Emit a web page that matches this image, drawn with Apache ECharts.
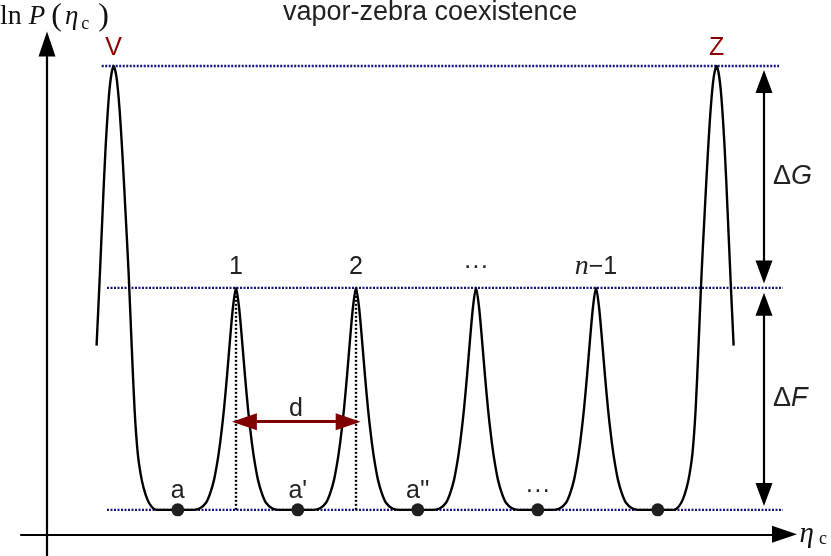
<!DOCTYPE html>
<html>
<head>
<meta charset="utf-8">
<title>vapor-zebra coexistence</title>
<script src="https://cdn.jsdelivr.net/npm/echarts@6/dist/echarts.min.js"></script>
<style>
  html, body { margin: 0; padding: 0; background: #fff; }
  #chart { width: 831px; height: 556px; }
</style>
</head>
<body>
<div id="chart"></div>
<script>
// schematic ln P(eta_c): barrier height dF = 1, extra peak height dG = 1

// curve samples (V peak, 4 barriers, Z peak)
const etaC = [
  0.413, 0.438, 0.463, 0.488, 0.522, 0.555, 0.580, 0.605, 0.630, 0.655, 0.680, 0.705, 0.730, 0.755, 0.780, 0.805, 0.838, 0.872, 0.913,
  1.225, 1.275, 1.325, 1.358, 1.392, 1.425, 1.450, 1.475, 1.500, 1.525, 1.550, 1.575, 1.600, 1.625, 1.650, 1.675, 1.700, 1.725, 1.758, 1.792, 1.825, 1.875, 1.925,
  2.225, 2.275, 2.325, 2.358, 2.392, 2.425, 2.450, 2.475, 2.500, 2.525, 2.550, 2.575, 2.600, 2.625, 2.650, 2.675, 2.700, 2.725, 2.758, 2.792, 2.825, 2.875, 2.925,
  3.225, 3.275, 3.325, 3.358, 3.392, 3.425, 3.450, 3.475, 3.500, 3.525, 3.550, 3.575, 3.600, 3.625, 3.650, 3.675, 3.700, 3.725, 3.758, 3.792, 3.825, 3.875, 3.925,
  4.225, 4.275, 4.325, 4.358, 4.392, 4.425, 4.450, 4.475, 4.500, 4.525, 4.550, 4.575, 4.600, 4.625, 4.650, 4.675, 4.700, 4.725, 4.758, 4.792, 4.825, 4.875, 4.925,
  5.222, 5.263, 5.297, 5.330, 5.355, 5.380, 5.405, 5.430, 5.455, 5.480, 5.505, 5.530, 5.555, 5.580, 5.613, 5.647, 5.672, 5.697, 5.722
];
const lnP = [
  0.850, 1.140, 1.450, 1.740, 2.011, 2.110, 2.056, 1.912, 1.696, 1.443, 1.178, 0.858, 0.560, 0.371, 0.272, 0.209, 0.155, 0.124, 0.110,
  0.110, 0.117, 0.142, 0.182, 0.245, 0.344, 0.443, 0.565, 0.714, 0.876, 1.024, 1.110, 1.024, 0.876, 0.714, 0.565, 0.443, 0.344, 0.245, 0.182, 0.142, 0.117, 0.110,
  0.110, 0.117, 0.142, 0.182, 0.245, 0.344, 0.443, 0.565, 0.714, 0.876, 1.024, 1.110, 1.024, 0.876, 0.714, 0.565, 0.443, 0.344, 0.245, 0.182, 0.142, 0.117, 0.110,
  0.110, 0.117, 0.142, 0.182, 0.245, 0.344, 0.443, 0.565, 0.714, 0.876, 1.024, 1.110, 1.024, 0.876, 0.714, 0.565, 0.443, 0.344, 0.245, 0.182, 0.142, 0.117, 0.110,
  0.110, 0.117, 0.142, 0.182, 0.245, 0.344, 0.443, 0.565, 0.714, 0.876, 1.024, 1.110, 1.024, 0.876, 0.714, 0.565, 0.443, 0.344, 0.245, 0.182, 0.142, 0.117, 0.110,
  0.110, 0.124, 0.155, 0.209, 0.272, 0.371, 0.560, 0.858, 1.178, 1.443, 1.696, 1.912, 2.056, 2.110, 2.011, 1.740, 1.450, 1.140, 0.850
];

// reference levels (well bottom, barrier top, V/Z top) and their extent
const levels = [0.11, 1.11, 2.11];
const levelFrom = [0.5, 0.5, 0.456];
const levelTo = [6.133, 6.133, 6.1];

const peakX = [1.575, 2.575, 3.575, 4.575];
const peakNames = ['1', '2', '···', '{i|n}−1'];
const wellX = [1.09, 2.09, 3.09, 4.09, 5.09];
const wellNames = ['a', "a'", "a''", '···', ''];
const phaseX = [0.555, 5.58];
const phaseNames = ['V', 'Z'];
const gapX = 5.975;
const gapNames = ['{u|Δ}{i|G}', '{u|Δ}{i|F}'];
const dLevel = 0.507;

const sans = 'Liberation Sans, Arial, sans-serif';
const serif = 'Liberation Serif, Times New Roman, serif';

const chart = echarts.init(document.getElementById('chart'));

const levelSeries = levels.map((y, i) => ({
  type: 'line',
  data: [[levelFrom[i], y], [levelTo[i], y]],
  symbol: 'none',
  silent: true,
  z: 1,
  lineStyle: { color: '#14147f', width: 2.4, type: [2, 1.5] }
}));

const dropSeries = peakX.slice(0, 2).map(x => ({
  type: 'line',
  data: [[x, levels[0]], [x, levels[1]]],
  symbol: 'none',
  silent: true,
  z: 1,
  lineStyle: { color: '#000', width: 2.4, type: [2, 2] }
}));

const option = {
  animation: false,
  backgroundColor: '#fff',
  title: [
    {
      text: 'vapor-zebra coexistence',
      left: 283, top: -1, padding: 0,
      textStyle: { fontFamily: sans, fontSize: 27, fontWeight: 'normal', color: '#222' }
    },
    {
      text: '{n|ln }{i|P}{p|(}{e|η}{s|c}{p|)}',
      left: 0, top: 1, padding: 0,
      textStyle: {
        fontWeight: 'normal',
        rich: {
          n: { fontFamily: serif, fontWeight: 'normal', fontSize: 28, color: '#111' },
          i: { fontFamily: serif, fontWeight: 'normal', fontStyle: 'italic', fontSize: 27, color: '#111', padding: [0, 6, 0, 0] },
          e: { fontFamily: serif, fontWeight: 'normal', fontStyle: 'italic', fontSize: 27, color: '#111', padding: [0, 3, 0, 3] },
          p: { fontFamily: serif, fontWeight: 'normal', fontSize: 32, color: '#111' },
          s: { fontFamily: serif, fontWeight: 'normal', fontSize: 18, color: '#111', verticalAlign: 'bottom', padding: [0, 9, 0, 0] }
        }
      }
    }
  ],
  grid: { left: 21, right: 46.5, top: 44, bottom: 0 },
  xAxis: {
    type: 'value',
    min: -0.2167, max: 6.1458,
    axisLine: {
      onZero: true,
      symbol: ['none', 'triangle'], symbolSize: [17, 25],
      lineStyle: { color: '#000', width: 2.2 }
    },
    axisTick: { show: false },
    axisLabel: { show: false },
    splitLine: { show: false },
    name: '{i|η}{s|c}',
    nameLocation: 'end',
    nameGap: 15,
    nameTextStyle: {
      rich: {
        i: { fontFamily: serif, fontStyle: 'italic', fontSize: 29, color: '#111', padding: [0, 5, 0, 0] },
        s: { fontFamily: serif, fontSize: 18, color: '#111', verticalAlign: 'bottom' }
      }
    }
  },
  yAxis: {
    type: 'value',
    min: -0.098, max: 2.209,
    axisLine: {
      onZero: true,
      symbol: ['none', 'triangle'], symbolSize: [17, 25],
      lineStyle: { color: '#000', width: 2.2 }
    },
    axisTick: { show: false },
    axisLabel: { show: false },
    splitLine: { show: false }
  },
  series: [
    ...levelSeries,
    ...dropSeries,
    {
      name: 'ln P',
      type: 'line',
      data: etaC.map((x, i) => [x, lnP[i]]),
      showSymbol: false,
      smooth: 0.3,
      silent: true,
      z: 3,
      lineStyle: { color: '#000', width: 2.4 }
    },
    {
      // wells: dots and labels
      type: 'scatter',
      data: wellX.map(x => [x, levels[0]]),
      symbolSize: 13,
      z: 5,
      itemStyle: { color: '#1e1e1e', opacity: 1 },
      label: {
        show: true, position: 'inside', offset: [0, -19],
        formatter: p => wellNames[p.dataIndex],
        fontFamily: sans, fontSize: 25, color: '#222'
      }
    },
    {
      // barrier labels
      type: 'scatter',
      data: peakX.map(x => [x, levels[1]]),
      symbolSize: 0,
      z: 5,
      itemStyle: { opacity: 1 },
      label: {
        show: true, position: 'inside', offset: [0, -21],
        formatter: p => peakNames[p.dataIndex],
        fontFamily: sans, fontSize: 25, color: '#222',
        rich: { i: { fontFamily: serif, fontStyle: 'italic', fontSize: 28, color: '#222' } }
      }
    },
    {
      // V and Z
      type: 'scatter',
      data: phaseX.map(x => [x, levels[2]]),
      symbolSize: 0,
      z: 5,
      itemStyle: { opacity: 1 },
      label: {
        show: true, position: 'inside', offset: [0, -18],
        formatter: p => phaseNames[p.dataIndex],
        fontFamily: sans, fontSize: 25, color: '#8b0000'
      }
    },
    {
      // d arrow
      type: 'scatter',
      data: [[(peakX[0] + peakX[1]) / 2, dLevel]],
      symbolSize: 0,
      z: 5,
      itemStyle: { opacity: 1 },
      label: {
        show: true, position: 'inside', offset: [0, -13],
        formatter: 'd',
        fontFamily: sans, fontSize: 25, color: '#222'
      },
      markLine: {
        silent: true,
        animation: false,
        symbol: ['triangle', 'triangle'],
        symbolSize: [17, 25],
        label: { show: false },
        lineStyle: { color: '#800000', width: 3, type: 'solid' },
        data: [[{ coord: [peakX[0] + 0.07, dLevel] }, { coord: [peakX[1] - 0.065, dLevel] }]]
      }
    },
    {
      // dG and dF arrows
      type: 'scatter',
      data: [[gapX, (levels[1] + levels[2]) / 2], [gapX, (levels[0] + levels[1]) / 2]],
      symbolSize: 0,
      z: 5,
      itemStyle: { opacity: 1 },
      label: {
        show: true, position: 'right', distance: 9,
        formatter: p => gapNames[p.dataIndex],
        rich: {
          u: { fontFamily: sans, fontSize: 27, color: '#222' },
          i: { fontFamily: sans, fontStyle: 'italic', fontSize: 27, color: '#222' }
        }
      },
      markLine: {
        silent: true,
        animation: false,
        symbol: ['triangle', 'triangle'],
        symbolSize: [17, 23],
        label: { show: false },
        lineStyle: { color: '#000', width: 2.2, type: 'solid' },
        data: [
          [{ coord: [gapX, levels[2] - 0.07] }, { coord: [gapX, levels[1] + 0.072] }],
          [{ coord: [gapX, levels[1] - 0.074] }, { coord: [gapX, levels[0] + 0.069] }]
        ]
      }
    }
  ]
};

chart.setOption(option);
</script>
</body>
</html>
